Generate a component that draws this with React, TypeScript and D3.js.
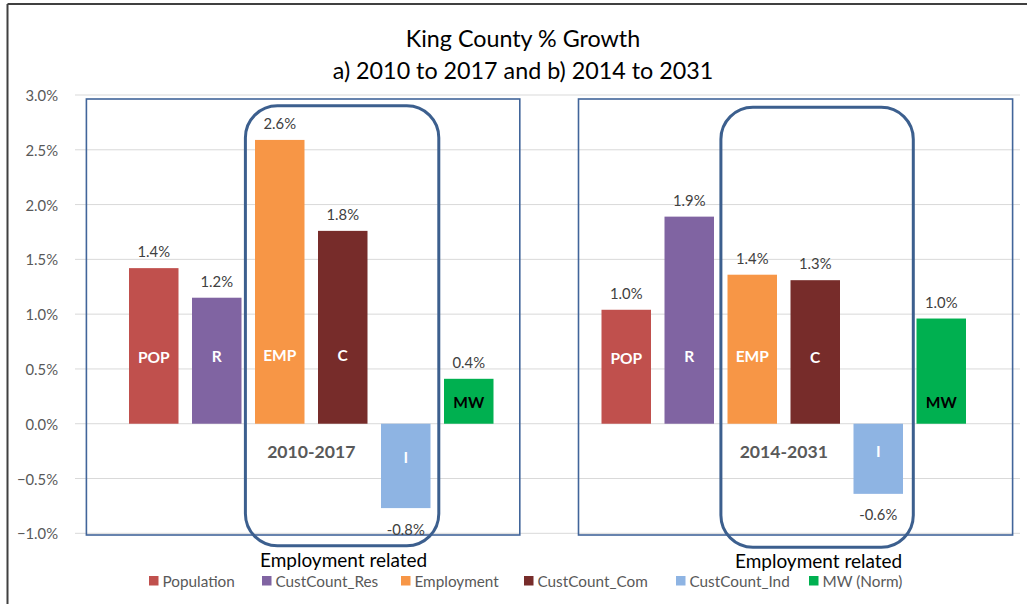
import React from 'react';
import * as d3 from 'd3';

const periods = ['2010-2017', '2014-2031'];
const seriesNames = ['Population', 'CustCount_Res', 'Employment', 'CustCount_Com', 'CustCount_Ind', 'MW (Norm)'];
const shortLabels = ['POP', 'R', 'EMP', 'C', 'I', 'MW'];
const seriesColors = ['#c0504d', '#8064a2', '#f79646', '#772c2a', '#8eb4e3', '#00b050'];
const shortLabelColors = ['#ffffff', '#ffffff', '#ffffff', '#ffffff', '#ffffff', '#000000'];
const growth2010to2017 = [0.0142, 0.0115, 0.0259, 0.0176, -0.0077, 0.0041];
const growth2014to2031 = [0.0104, 0.0189, 0.0136, 0.0131, -0.0064, 0.0096];
const dataLabels2010 = ['1.4%', '1.2%', '2.6%', '1.8%', '-0.8%', '0.4%'];
const dataLabels2014 = ['1.0%', '1.9%', '1.4%', '1.3%', '-0.6%', '1.0%'];
const yTicks = [-0.01, -0.005, 0, 0.005, 0.01, 0.015, 0.02, 0.025, 0.03];
const innerLabelValue2010 = [0.0061, 0.0062, 0.0063, 0.0063, -0.003, 0.002];
const innerLabelValue2014 = [0.006, 0.0062, 0.0062, 0.0061, -0.0025, 0.002];
const legendX = [149, 262, 401, 524, 676, 809];

const FONT = "Lato, 'Open Sans', sans-serif";
const W = 1027;
const H = 604;

export default function App() {
  const y = d3.scaleLinear().domain([-0.01, 0.03]).range([533.3, 95]);
  const xOuter = d3.scaleBand<string>().domain(periods).range([75, 1020]).padding(0);
  const bw = xOuter.bandwidth();
  const gap = 94.5;
  const xInner = d3
    .scaleBand<string>()
    .domain(seriesNames)
    .range([gap / 2, bw - gap / 2])
    .paddingInner(0.2143)
    .paddingOuter(0.10715);
  const fmt = d3.format('.1%');
  const groups = [
    { period: periods[0], values: growth2010to2017, labels: dataLabels2010, inner: innerLabelValue2010 },
    { period: periods[1], values: growth2014to2031, labels: dataLabels2014, inner: innerLabelValue2014 },
  ];

  const barX = (p: string, s: string) => (xOuter(p) as number) + (xInner(s) as number);

  // annotation boxes derived from bar positions
  const panelBoxes = [
    { x0: barX(periods[0], seriesNames[0]) - 42.6, x1: barX(periods[0], seriesNames[5]) + xInner.bandwidth() + 26.3 },
    { x0: barX(periods[1], seriesNames[0]) - 23, x1: barX(periods[1], seriesNames[5]) + xInner.bandwidth() + 46.6 },
  ];
  const roundBoxes = [
    { x0: barX(periods[0], seriesNames[2]) - 9.6, x1: barX(periods[0], seriesNames[4]) + xInner.bandwidth() + 8.3, y0: 105.7, y1: 545.7 },
    { x0: barX(periods[1], seriesNames[2]) - 6.6, x1: barX(periods[1], seriesNames[4]) + xInner.bandwidth() + 10.3, y0: 107.3, y1: 547.3 },
  ];

  return (
    <svg width={W} height={H} style={{ position: 'absolute', left: 0, top: 0, background: '#fff' }} fontFamily={FONT}>
      <rect x={0} y={0} width={W} height={H} fill="#fff" />
      {/* outer chart border (top & left visible) */}
      <line x1={7.5} x2={W} y1={4} y2={4} stroke="#404040" strokeWidth={2} />
      <line x1={7.5} x2={7.5} y1={4} y2={H} stroke="#404040" strokeWidth={2} />

      {/* title */}
      <text x={523} y={38} textAnchor="middle" dominantBaseline="central" fontSize={23.3} fill="#000">
        King County % Growth
      </text>
      <text x={523} y={70} textAnchor="middle" dominantBaseline="central" fontSize={23.3} fill="#000">
        a) 2010 to 2017 and b) 2014 to 2031
      </text>

      {/* gridlines and y ticks */}
      {yTicks.map((t) => (
        <g key={t}>
          <line x1={75} x2={1020} y1={y(t)} y2={y(t)} stroke="#d9d9d9" strokeWidth={1} />
          <text x={58} y={y(t)} textAnchor="end" dominantBaseline="central" fontSize={14.8} fill="#595959">
            {fmt(t)}
          </text>
        </g>
      ))}

      {/* panel boxes */}
      {panelBoxes.map((b, i) => (
        <rect key={i} x={b.x0} y={99} width={b.x1 - b.x0} height={535 - 99} fill="none" stroke="#41659a" strokeWidth={1.6} />
      ))}

      {/* bars */}
      {groups.map((g) =>
        seriesNames.map((s, i) => {
          const v = g.values[i];
          const x = barX(g.period, s);
          const top = Math.min(y(v), y(0));
          const h = Math.abs(y(v) - y(0));
          return <rect key={g.period + s} x={x} y={top} width={xInner.bandwidth()} height={h} fill={seriesColors[i]} />;
        })
      )}

      {/* data labels */}
      {groups.map((g) =>
        seriesNames.map((s, i) => {
          const v = g.values[i];
          const cx = barX(g.period, s) + xInner.bandwidth() / 2;
          const ly = v >= 0 ? y(v) - 17 : y(v) + 20.5;
          return (
            <text key={'l' + g.period + s} x={cx} y={ly} textAnchor="middle" dominantBaseline="central" fontSize={14.8} fill="#404040">
              {g.labels[i]}
            </text>
          );
        })
      )}

      {/* in-bar short labels */}
      {groups.map((g) =>
        seriesNames.map((s, i) => {
          const cx = barX(g.period, s) + xInner.bandwidth() / 2;
          return (
            <text key={'s' + g.period + s} x={cx} y={y(g.inner[i])} textAnchor="middle" dominantBaseline="central" fontSize={15.5} fontWeight="bold" fill={shortLabelColors[i]}>
              {shortLabels[i]}
            </text>
          );
        })
      )}

      {/* period labels */}
      {periods.map((p) => (
        <text key={'p' + p} x={(xOuter(p) as number) + bw / 2} y={y(-0.0025)} textAnchor="middle" dominantBaseline="central" fontSize={17.6} fontWeight="bold" fill="#595959">
          {p}
        </text>
      ))}

      {/* rounded employment boxes */}
      {roundBoxes.map((b, i) => (
        <g key={'r' + i}>
          <rect x={b.x0} y={b.y0} width={b.x1 - b.x0} height={b.y1 - b.y0} rx={32} ry={32} fill="none" stroke="#3c5f8e" strokeWidth={3} />
          <text x={(b.x0 + b.x1) / 2 + 1.5} y={b.y1 + 13.5} textAnchor="middle" dominantBaseline="central" fontSize={19} fill="#000">
            Employment related
          </text>
        </g>
      ))}

      {/* legend */}
      {seriesNames.map((s, i) => (
        <g key={'lg' + s}>
          <rect x={legendX[i]} y={576} width={9.5} height={9.5} fill={seriesColors[i]} />
          <text x={legendX[i] + 13.5} y={581} dominantBaseline="central" fontSize={15.3} fill="#595959">
            {s}
          </text>
        </g>
      ))}
    </svg>
  );
}
